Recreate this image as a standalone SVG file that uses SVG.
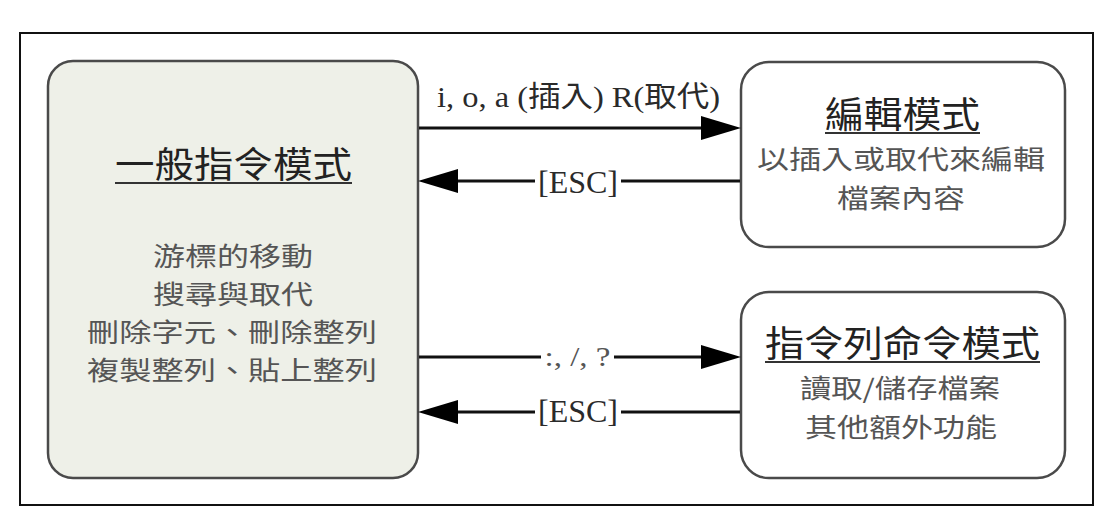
<svg xmlns="http://www.w3.org/2000/svg" width="1114" height="511" viewBox="0 0 1114 511">
  <defs>
    <style>
      .box { stroke: #4a4a4a; stroke-width: 2.5; }
      .title { font-family: "Noto Sans CJK TC", "Noto Sans CJK SC", sans-serif; font-size: 36px; fill: #222; text-anchor: middle; }
      .body { font-family: "Noto Sans CJK TC", "Noto Sans CJK SC", sans-serif; font-size: 26px; fill: #555; text-anchor: middle; }
      .ul { stroke: #333; stroke-width: 2; }
      .lbl { font-family: "Liberation Serif", "Noto Sans CJK TC", serif; fill: #2a2a2a; text-anchor: middle; }
      .conn { stroke: #111; stroke-width: 3; fill: none; }
      .gap { fill: #ffffff; }
    </style>
    <marker id="ah" markerUnits="userSpaceOnUse" markerWidth="40" markerHeight="26" refX="30" refY="13" orient="auto">
      <path d="M0,1 L40,13 L0,25 z" fill="#000"/>
    </marker>
  </defs>
  <rect x="0" y="0" width="1114" height="511" fill="#ffffff"/>
  <rect x="20" y="33" width="1073" height="472" fill="none" stroke="#111" stroke-width="2"/>

  <g id="node-normal">
    <rect class="box" x="48" y="61" width="370" height="417" rx="25" ry="25" fill="#eef0e8"/>
    <text class="title" x="233.5" y="178" textLength="237" lengthAdjust="spacingAndGlyphs">一般指令模式</text>
    <line class="ul" x1="115" y1="183" x2="352" y2="183"/>
    <text class="body" x="233" y="266" textLength="160" lengthAdjust="spacingAndGlyphs">游標的移動</text>
    <text class="body" x="233" y="304" textLength="160" lengthAdjust="spacingAndGlyphs">搜尋與取代</text>
    <text class="body" x="232" y="342" textLength="290" lengthAdjust="spacingAndGlyphs">刪除字元、刪除整列</text>
    <text class="body" x="232" y="380" textLength="290" lengthAdjust="spacingAndGlyphs">複製整列、貼上整列</text>
  </g>

  <g id="node-edit">
    <rect class="box" x="741" y="62" width="324" height="185" rx="28" ry="28" fill="#ffffff"/>
    <text class="title" x="902.5" y="128" textLength="155" lengthAdjust="spacingAndGlyphs">編輯模式</text>
    <line class="ul" x1="825" y1="133" x2="980" y2="133"/>
    <text class="body" x="901" y="169" textLength="288" lengthAdjust="spacingAndGlyphs">以插入或取代來編輯</text>
    <text class="body" x="901" y="208" textLength="128" lengthAdjust="spacingAndGlyphs">檔案內容</text>
  </g>

  <g id="node-cmdline">
    <rect class="box" x="741" y="292" width="324" height="186" rx="28" ry="28" fill="#ffffff"/>
    <text class="title" x="902.5" y="357" textLength="275" lengthAdjust="spacingAndGlyphs">指令列命令模式</text>
    <line class="ul" x1="765" y1="362" x2="1040" y2="362"/>
    <text class="body" x="900" y="398" textLength="200" lengthAdjust="spacingAndGlyphs">讀取/儲存檔案</text>
    <text class="body" x="901" y="437" textLength="192" lengthAdjust="spacingAndGlyphs">其他額外功能</text>
  </g>

  <g id="connectors">
    <line class="conn" x1="419" y1="128" x2="731" y2="128" marker-end="url(#ah)"/>
    <text class="lbl" x="578.5" y="107" font-size="29" textLength="283" lengthAdjust="spacingAndGlyphs">i, o, a (插入) R(取代)</text>

    <line class="conn" x1="740" y1="181" x2="428" y2="181" marker-end="url(#ah)"/>
    <rect class="gap" x="535" y="172" width="86" height="18"/>
    <text class="lbl" x="578" y="193" font-size="32">[ESC]</text>

    <line class="conn" x1="419" y1="357" x2="731" y2="357" marker-end="url(#ah)"/>
    <rect class="gap" x="541" y="348" width="73" height="18"/>
    <text class="lbl" x="577.5" y="366" font-size="28" style="fill:#555" textLength="66" lengthAdjust="spacingAndGlyphs">:, /, ?</text>

    <line class="conn" x1="740" y1="412" x2="428" y2="412" marker-end="url(#ah)"/>
    <rect class="gap" x="535" y="403" width="86" height="18"/>
    <text class="lbl" x="578" y="422" font-size="32">[ESC]</text>
  </g>
</svg>
